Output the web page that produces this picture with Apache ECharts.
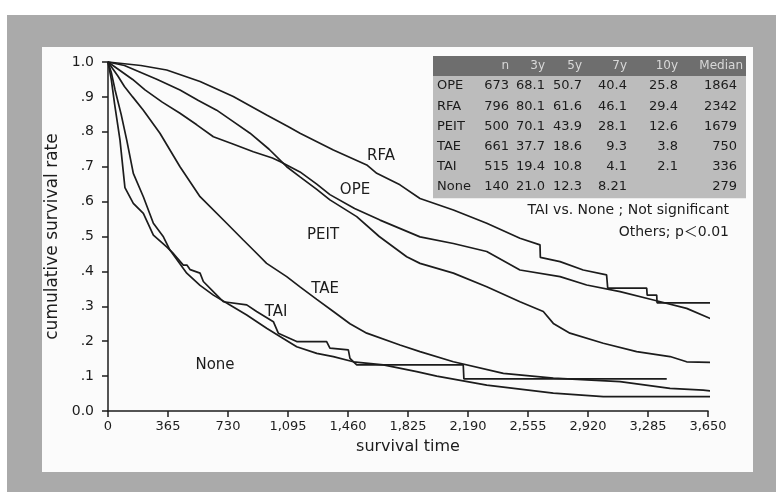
<!DOCTYPE html>
<html>
<head>
<meta charset="utf-8">
<script src="https://cdn.jsdelivr.net/npm/echarts@6/dist/echarts.min.js"></script>
<style>
  html, body { margin: 0; padding: 0; background: #fff; }
  #frame { position: absolute; left: 7px; top: 15px; width: 769px; height: 477px; background: #aaaaaa; }
  #panel { position: absolute; left: 42px; top: 47px; width: 711px; height: 425px; background: #fbfbfb; }
  #chart { position: absolute; left: 0; top: 0; width: 776px; height: 492px; }
</style>
</head>
<body>
<div id="frame"></div>
<div id="panel"></div>
<div id="chart"></div>
<script>
// survival curves, time in days / cumulative survival
const rfaT = [0, 100, 200, 357, 560, 762, 965, 1095, 1168, 1371, 1574, 1635, 1776, 1898, 2101, 2304, 2506, 2628, 2630, 2750, 2891, 3033, 3040, 3277, 3280, 3338, 3340, 3784];
const rfaS = [1, 0.995, 0.99, 0.977, 0.944, 0.901, 0.848, 0.815, 0.796, 0.748, 0.705, 0.681, 0.648, 0.609, 0.576, 0.538, 0.495, 0.476, 0.44, 0.428, 0.404, 0.39, 0.352, 0.352, 0.332, 0.332, 0.31, 0.31];

const opeT = [0, 60, 150, 225, 330, 438, 540, 641, 760, 884, 1000, 1046, 1168, 1270, 1350, 1500, 1655, 1898, 2101, 2304, 2506, 2750, 2912, 3115, 3318, 3520, 3683, 3784];
const opeS = [1, 0.98, 0.95, 0.92, 0.885, 0.853, 0.82, 0.786, 0.765, 0.743, 0.725, 0.715, 0.685, 0.65, 0.62, 0.58, 0.547, 0.499, 0.48, 0.457, 0.404, 0.385, 0.361, 0.342, 0.318, 0.294, 0.261, 0.251];

const peitT = [0, 100, 200, 300, 438, 550, 661, 760, 864, 980, 1087, 1168, 1270, 1350, 1513, 1650, 1817, 1898, 2101, 2304, 2506, 2648, 2709, 2810, 3013, 3216, 3419, 3520, 3784];
const peitS = [1, 0.99, 0.97, 0.95, 0.92, 0.89, 0.862, 0.83, 0.796, 0.75, 0.70, 0.671, 0.635, 0.605, 0.557, 0.50, 0.442, 0.423, 0.395, 0.356, 0.313, 0.285, 0.251, 0.223, 0.194, 0.17, 0.156, 0.141, 0.138];

const taeT = [0, 30, 60, 100, 150, 215, 316, 438, 560, 722, 823, 904, 965, 1087, 1170, 1270, 1371, 1472, 1574, 1776, 1898, 2101, 2405, 2709, 3115, 3419, 3621, 3784];
const taeS = [1, 0.98, 0.96, 0.93, 0.90, 0.862, 0.796, 0.70, 0.614, 0.538, 0.49, 0.452, 0.423, 0.385, 0.355, 0.32, 0.285, 0.25, 0.223, 0.189, 0.17, 0.141, 0.108, 0.094, 0.084, 0.065, 0.06, 0.051];

const taiT = [0, 20, 43, 80, 114, 154, 215, 276, 337, 377, 479, 560, 641, 742, 844, 965, 1066, 1148, 1270, 1371, 1492, 1675, 1878, 2000, 2304, 2709, 3013, 3784];
const taiS = [1, 0.97, 0.92, 0.85, 0.776, 0.681, 0.614, 0.538, 0.499, 0.461, 0.395, 0.36, 0.332, 0.304, 0.275, 0.237, 0.208, 0.184, 0.165, 0.156, 0.141, 0.132, 0.113, 0.10, 0.074, 0.051, 0.041, 0.041];

const noneT = [0, 20, 40, 73, 103, 154, 215, 276, 357, 400, 458, 480, 500, 560, 580, 651, 702, 844, 904, 1006, 1036, 1107, 1148, 1330, 1350, 1462, 1472, 1513, 2161, 2165, 3399];
const noneS = [1, 0.95, 0.88, 0.776, 0.64, 0.595, 0.566, 0.504, 0.47, 0.45, 0.418, 0.418, 0.405, 0.395, 0.371, 0.337, 0.313, 0.304, 0.285, 0.256, 0.223, 0.208, 0.199, 0.199, 0.18, 0.175, 0.151, 0.132, 0.132, 0.092, 0.092];

// table in the top right corner
const tableHead = ["", "n", "3y", "5y", "7y", "10y", "Median"];
const groups = ["OPE", "RFA", "PEIT", "TAE", "TAI", "None"];
const nCases = ["673", "796", "500", "661", "515", "140"];
const surv3y = ["68.1", "80.1", "70.1", "37.7", "19.4", "21.0"];
const surv5y = ["50.7", "61.6", "43.9", "18.6", "10.8", "12.3"];
const surv7y = ["40.4", "46.1", "28.1", "9.3", "4.1", "8.21"];
const surv10y = ["25.8", "29.4", "12.6", "3.8", "2.1", ""];
const medians = ["1864", "2342", "1679", "750", "336", "279"];

const xTicks = [0, 365, 730, 1095, 1460, 1825, 2190, 2555, 2920, 3285, 3650];

const FONT = "'DejaVu Sans', 'Liberation Sans', 'Noto Sans CJK JP', sans-serif";
const INK = "#1c1c1c";

function pairs(ts, ss) {
  return ts.map((t, i) => [t, ss[i]]);
}

function curve(name, ts, ss) {
  return {
    name: name,
    type: "line",
    data: pairs(ts, ss),
    showSymbol: false,
    clip: false,
    lineStyle: { color: INK, width: 1.7 },
    silent: true,
  };
}

// table graphics
const colRight = [null, 509, 545, 582, 627, 678, 737];
const tabLeft = 433, tabRight = 746, headTop = 56, headH = 20, rowH = 20.2;
const tableEls = [];
tableEls.push({ type: "rect", shape: { x: tabLeft, y: headTop, width: tabRight - tabLeft, height: headH + rowH * groups.length + 1 }, style: { fill: "#bcbcbc" } });
tableEls.push({ type: "rect", shape: { x: tabLeft, y: headTop, width: tabRight - tabLeft, height: headH }, style: { fill: "#6e6e6e" } });
tableHead.forEach((h, c) => {
  if (!h) return;
  tableEls.push({ type: "text", style: { text: h, x: c === 6 ? 743 : colRight[c], y: headTop + headH / 2, align: "right", verticalAlign: "middle", font: "12px " + FONT, fill: "#d8d8d8" } });
});
const cols = [groups, nCases, surv3y, surv5y, surv7y, surv10y, medians];
groups.forEach((g, r) => {
  const cy = headTop + headH + rowH * r + rowH / 2;
  cols.forEach((col, c) => {
    tableEls.push({
      type: "text",
      style: {
        text: col[r], x: c === 0 ? 437 : colRight[c], y: cy,
        align: c === 0 ? "left" : "right", verticalAlign: "middle",
        font: "13px " + FONT, fill: INK,
      },
    });
  });
});

// curve names and notes
const notes = [
  { text: "RFA", x: 381, y: 156, align: "center", size: 15 },
  { text: "OPE", x: 355, y: 190, align: "center", size: 15 },
  { text: "PEIT", x: 323, y: 235, align: "center", size: 15 },
  { text: "TAE", x: 325, y: 289, align: "center", size: 15 },
  { text: "TAI", x: 276, y: 312, align: "center", size: 15 },
  { text: "None", x: 215, y: 365, align: "center", size: 15 },
  { text: "TAI vs. None ; Not significant", x: 729, y: 210, align: "right", size: 14 },
  { text: "Others; p\uFF1C0.01", x: 729, y: 232, align: "right", size: 14 },
];
const noteEls = notes.map((n) => ({
  type: "text",
  style: { text: n.text, x: n.x, y: n.y, align: n.align, verticalAlign: "middle", font: n.size + "px " + FONT, fill: INK },
}));

const chart = echarts.init(document.getElementById("chart"));
chart.setOption({
  backgroundColor: "transparent",
  animation: false,
  grid: { left: 108, top: 62, width: 600, height: 349 },
  xAxis: {
    type: "value",
    min: 0,
    max: 3650,
    interval: 365,
    name: "survival time",
    nameLocation: "middle",
    nameGap: 28,
    nameTextStyle: { color: INK, fontFamily: FONT, fontSize: 16 },
    axisLine: { lineStyle: { color: INK, width: 1.5 } },
    axisTick: { length: 6, lineStyle: { color: INK, width: 1.5 } },
    axisLabel: {
      color: INK, fontFamily: FONT, fontSize: 13, margin: 9,
      formatter: (v) => (xTicks.indexOf(v) >= 0 ? v.toLocaleString("en-US") : ""),
    },
    splitLine: { show: false },
  },
  yAxis: {
    type: "value",
    min: 0,
    max: 1,
    interval: 0.1,
    name: "cumulative survival rate",
    nameLocation: "middle",
    nameGap: 34,
    nameTextStyle: { color: INK, fontFamily: FONT, fontSize: 17 },
    axisLine: { lineStyle: { color: INK, width: 1.5 } },
    axisTick: { length: 6, lineStyle: { color: INK, width: 1.5 } },
    axisLabel: {
      color: INK, fontFamily: FONT, fontSize: 14, margin: 14,
      formatter: (v) => {
        const k = Math.round(v * 10);
        if (k === 0) return "0.0";
        if (k === 10) return "1.0";
        return "." + k;
      },
    },
    splitLine: { show: false },
  },
  series: [
    curve("RFA", rfaT, rfaS),
    curve("OPE", opeT, opeS),
    curve("PEIT", peitT, peitS),
    curve("TAE", taeT, taeS),
    curve("TAI", taiT, taiS),
    curve("None", noneT, noneS),
  ],
  graphic: { elements: tableEls.concat(noteEls) },
});
</script>
</body>
</html>
